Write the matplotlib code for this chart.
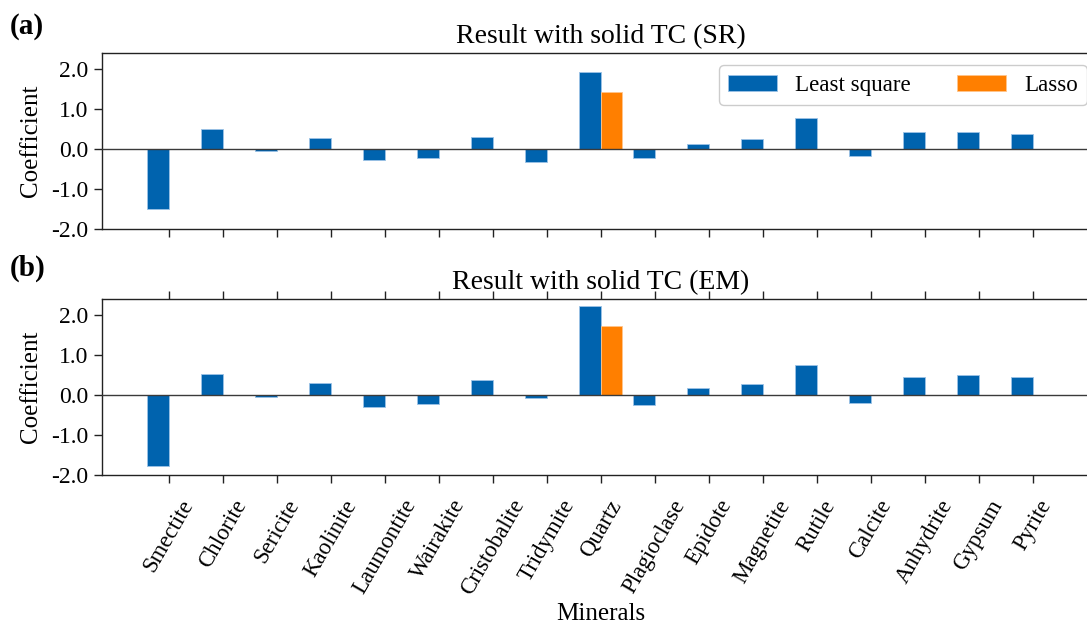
import numpy as np
import matplotlib
matplotlib.use("Agg")
import matplotlib.pyplot as plt

minerals = ["Smectite", "Chlorite", "Sericite", "Kaolinite", "Laumontite", "Wairakite",
            "Cristobalite", "Tridymite", "Quartz", "Plagioclase", "Epidote", "Magnetite",
            "Rutile", "Calcite", "Anhydrite", "Gypsum", "Pyrite"]

sr_least_square = [-1.50, 0.50, -0.04, 0.29, -0.26, -0.22, 0.30, -0.32, 1.92, -0.22,
                   0.12, 0.25, 0.79, -0.18, 0.42, 0.44, 0.37]
sr_lasso = [0, 0, 0, 0, 0, 0, 0, 0, 1.43, 0, 0, 0, 0, 0, 0, 0, 0]

em_least_square = [-1.77, 0.54, -0.05, 0.32, -0.30, -0.22, 0.38, -0.07, 2.23, -0.23,
                   0.18, 0.29, 0.75, -0.19, 0.47, 0.52, 0.47]
em_lasso = [0, 0, 0, 0, 0, 0, 0, 0, 1.73, 0, 0, 0, 0, 0, 0, 0, 0]

yticks = [-2.0, -1.0, 0.0, 1.0, 2.0]
ytick_labels = ["-2.0", "-1.0", "0.0", "1.0", "2.0"]

plt.rcParams['font.family'] = ['Liberation Serif', 'DejaVu Serif']
plt.rcParams['font.size'] = 16

W, H = 1087, 623
fig = plt.figure(figsize=(W / 100, H / 100), dpi=100)

def frac(left, top, right, bottom):
    return [left / W, 1 - bottom / H, (right - left) / W, (bottom - top) / H]

ax1 = fig.add_axes(frac(101.7, 52.7, 1099.7, 229.3))
ax2 = fig.add_axes(frac(101.7, 299.0, 1099.7, 475.3))

blue = '#0063ae'
orange = '#ff7f00'
x = np.arange(len(minerals))
w = 0.4

for ax, ls, la, title in [(ax1, sr_least_square, sr_lasso, "Result with solid TC (SR)"),
                          (ax2, em_least_square, em_lasso, "Result with solid TC (EM)")]:
    ax.bar(x - w / 2, ls, width=w, color=blue, edgecolor='#9cc3e6', linewidth=0.6,
           label="Least square", zorder=2)
    ax.bar(x + w / 2, la, width=w, color=orange, edgecolor='#ffc58c', linewidth=0.6,
           label="Lasso", zorder=2)
    ax.axhline(0, color='#3a3a3a', linewidth=1.0, zorder=3)
    ax.set_xlim(-1.24, 17.24)
    ax.set_ylim(-2.0, 2.41)
    ax.set_yticks(yticks)
    ax.set_yticklabels(ytick_labels, fontsize=17)
    ax.set_xticks(x)
    ax.set_ylabel("Coefficient", fontsize=18, labelpad=7)
    ax.set_title(title, fontsize=20, pad=7)
    for s in ax.spines.values():
        s.set_linewidth(1.0)
        s.set_color('#222222')
    ax.tick_params(axis='both', direction='out', length=6, width=1.0, color='#222222')

ax1.set_xticklabels([])
ax1.tick_params(axis='x', bottom=True, top=False, labelbottom=False)
ax2.tick_params(axis='x', bottom=True, top=True, labelbottom=True, labeltop=False, pad=9)
ax2.set_xticklabels(minerals, rotation=60, ha='center', fontsize=16.5)
ax2.set_xlabel("Minerals", fontsize=18, labelpad=3)

leg = ax1.legend(loc='upper right', ncol=2, handlelength=2.1, handleheight=0.7,
                 handletextpad=0.8, columnspacing=2.0, fancybox=True,
                 edgecolor='#cccccc', framealpha=1.0, fontsize=16.6,
                 borderaxespad=0.55)

fig.text(10 / W, 1 - 27 / H, "(a)", fontsize=21, fontweight='bold', va='center', ha='left')
fig.text(10 / W, 1 - 268 / H, "(b)", fontsize=21, fontweight='bold', va='center', ha='left')

fig.savefig("out.png", dpi=100)
